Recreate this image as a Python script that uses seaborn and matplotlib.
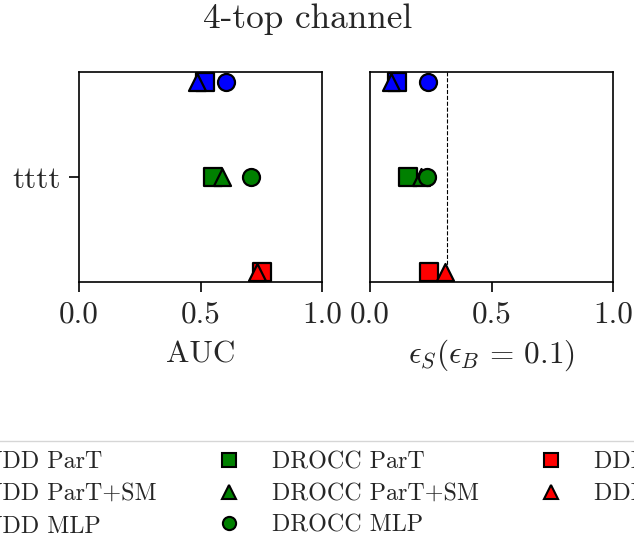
import matplotlib
matplotlib.use("Agg")
import matplotlib.pyplot as plt
from matplotlib.lines import Line2D
import pandas as pd
import seaborn as sns

# Methods and variants
families = ["DeepSVDD", "DROCC", "DDIM"]
variants = ["ParT", "ParT+SM", "MLP"]
family_colors = ["#0000ff", "#008000", "#ff0000"]
variant_markers = ["s", "^", "o"]
family_rows = [0.3, 0.0, -0.3]
channel = "tttt"

# AUC per family (ParT, ParT+SM, MLP)
auc_deepsvdd = [0.52, 0.486, 0.605]
auc_drocc = [0.553, 0.587, 0.708]
auc_ddim = [0.752, 0.731]

# Signal efficiency at background efficiency 0.1
eff_deepsvdd = [0.11, 0.085, 0.237]
eff_drocc = [0.155, 0.21, 0.236]
eff_ddim = [0.244, 0.31]

# Reference signal efficiency (dashed line)
eff_reference = 0.317

xticks = [0.0, 0.5, 1.0]

sns.set_style("white")
plt.rcParams["font.family"] = ["cmr10"]
plt.rcParams["mathtext.fontset"] = "cm"
plt.rcParams["axes.formatter.use_mathtext"] = True
plt.rcParams["axes.unicode_minus"] = False

auc_by_family = [auc_deepsvdd, auc_drocc, auc_ddim]
eff_by_family = [eff_deepsvdd, eff_drocc, eff_ddim]

records = []
for fam, row, aucs, effs in zip(families, family_rows, auc_by_family, eff_by_family):
    for var, a, e in zip(variants, aucs, effs):
        records.append({"family": fam, "variant": var, "row": row, "auc": a, "eff": e})
df = pd.DataFrame(records)

palette = dict(zip(families, family_colors))
markers = dict(zip(variants, variant_markers))

fig, (ax1, ax2) = plt.subplots(1, 2, figsize=(6.34, 5.46), dpi=100)
fig.subplots_adjust(left=0.1246, right=0.967, top=0.868, bottom=0.4835, wspace=0.1975)

for ax, col in ((ax1, "auc"), (ax2, "eff")):
    for _, r in df.iterrows():
        sns.scatterplot(x=[r[col]], y=[r["row"]], ax=ax, color=palette[r["family"]],
                        marker=markers[r["variant"]], s=150, edgecolor="black",
                        linewidth=1.6, legend=False, zorder=3, clip_on=False)
    ax.set_xlim(0, 1)
    ax.set_ylim(-0.332, 0.332)
    ax.set_xticks(xticks)
    ax.set_xticklabels([f"{t:.1f}" for t in xticks])
    for s in ax.spines.values():
        s.set_color("black")
        s.set_linewidth(1.2)
    ax.tick_params(axis="both", direction="out", length=7, width=1.2, pad=6,
                   labelsize=22.5, color="black", bottom=True, left=True)
    ax.set_ylabel("")

ax1.set_yticks([0.0])
ax1.set_yticklabels([channel])
ax2.set_yticks([])
ax2.axvline(eff_reference, color="black", linestyle="--", linewidth=0.8, zorder=1)

ax1.set_xlabel("AUC", fontsize=22.5, labelpad=9)
ax2.set_xlabel(r"$\epsilon_S(\epsilon_B \,=\, 0.1)$", fontsize=22.5, labelpad=7)

fig.suptitle("4-top channel", fontsize=25.4, x=0.485, y=0.993)

handles = []
for fam, c, aucs in zip(families, family_colors, auc_by_family):
    for var, m in zip(variants[:len(aucs)], variant_markers):
        handles.append(Line2D([], [], linestyle="none", marker=m, markersize=9.5,
                              markerfacecolor=c, markeredgecolor="black",
                              markeredgewidth=1.5, label=f"{fam} {var}"))

fig.legend(handles=handles, loc="upper center", bbox_to_anchor=(0.497, 0.192),
           ncol=3, fontsize=17.3, frameon=True, borderaxespad=0,
           labelspacing=0.4, edgecolor="0.8", fancybox=True)

fig.savefig("out.png", dpi=100)
